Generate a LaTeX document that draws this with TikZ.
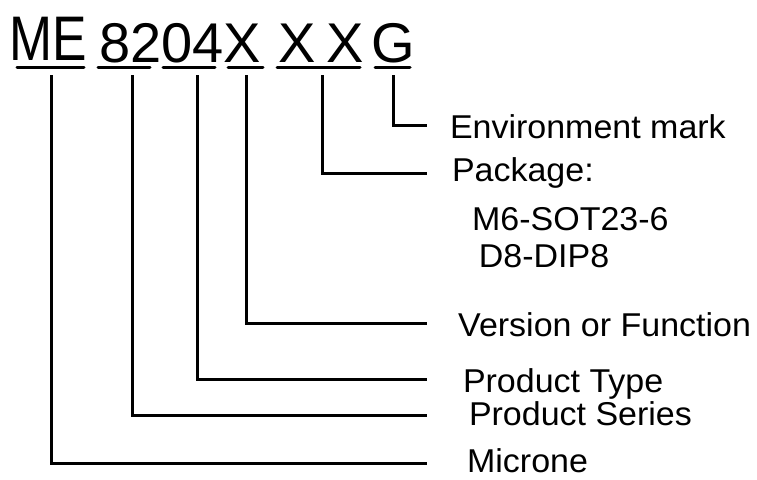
\documentclass[tikz,border=0pt]{standalone}
\usepackage{fontspec}
\setmainfont{Liberation Sans}
\newfontfamily\mefont[FakeStretch=0.82]{Liberation Sans}
\newfontfamily\lblfont[FakeStretch=1.03]{Liberation Sans}
\usetikzlibrary{positioning}

\begin{document}
\begin{tikzpicture}[x=1pt,y=-1pt,line width=3pt,
  code/.style={inner sep=0pt,anchor=base west,font=\fontsize{56}{60}\selectfont},
  lbl/.style={inner sep=0pt,anchor=base west,font=\lblfont\fontsize{33}{36}\selectfont},
  uline/.style={line cap=round},
  leader/.style={line cap=butt,line join=miter}]
 \useasboundingbox (0,0) rectangle (757,479);
 % part number
 \node[code,font=\mefont\fontsize{63}{66}\selectfont] (ME) at (8.2,60) {ME};
 \node[code] (num) at (97.6,62) {8204X};
 \node[code] (X1) at (277,62) {X};
 \node[code] (X2) at (325,62) {X};
 \node[code] (G) at (370.3,62) {G};
 % underlines and tick points
 \foreach \a/\b/\m/\n in {17/84/51/ME,98/150/132/82,163/215/197/04,228/263/246/X,277/360/322/XX,375/410/393/G}{
   \draw[uline] (\a,67) -- (\b,67);
   \coordinate (t-\n) at (\m,75);
 }
 % labels
 \node[lbl] (env) at (448.5,138) {Environment mark};
 \node[lbl] (pkg) at (450.5,181) {Package:};
 \node[lbl] (m6) at (470.6,230) {M6-SOT23-6};
 \node[lbl] (d8) at (477.4,267) {D8-DIP8};
 \node[lbl] (ver) at (456.7,336) {Version or Function};
 \node[lbl] (typ) at (461.5,392) {Product Type};
 \node[lbl] (ser) at (467.5,425) {Product Series};
 \node[lbl] (mic) at (465.6,472.5) {Microne};
 % leader ends
 \coordinate (e-G) at (427,125);
 \coordinate (e-XX) at (427,173);
 \coordinate (e-X) at (427,323);
 \coordinate (e-04) at (427,379);
 \coordinate (e-82) at (427,415);
 \coordinate (e-ME) at (427,463);
 \foreach \n in {G,XX,X,04,82,ME}
   \draw[leader] (t-\n) |- (e-\n);
\end{tikzpicture}
\end{document}
